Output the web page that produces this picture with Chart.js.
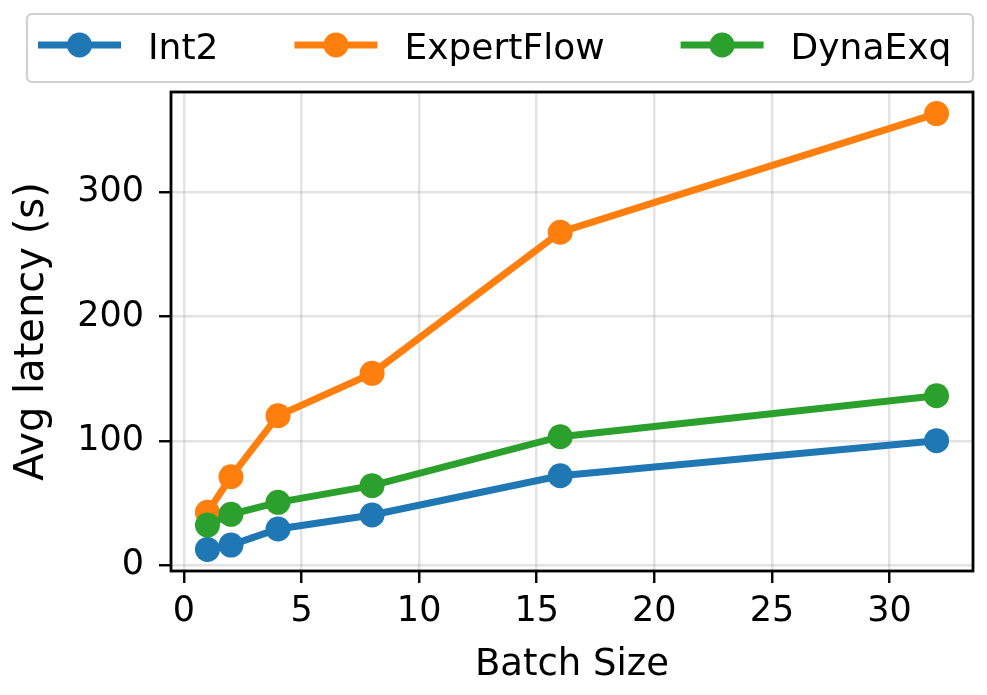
<!DOCTYPE html>
<html>
<head>
<meta charset="utf-8">
<script src="https://cdn.jsdelivr.net/npm/chart.js@4.4.1/dist/chart.umd.min.js"></script>
<style>
  html, body { margin: 0; padding: 0; background: #fff; }
  #wrap { width: 987px; height: 695px; position: relative; }
</style>
</head>
<body>
<div id="wrap"><canvas id="latencyChart"></canvas></div>
<script>
// Data
const batchSizes = [1, 2, 4, 8, 16, 32];
const int2 = [12.6, 16.1, 29.0, 40.3, 71.9, 100.1];
const expertFlow = [42.4, 71.1, 120.2, 154.3, 267.9, 363.4];
const dynaExq = [32.2, 40.8, 50.5, 63.9, 103.3, 136.3];

const seriesNames = ['Int2', 'ExpertFlow', 'DynaExq'];
const xTickValues = [0, 5, 10, 15, 20, 25, 30];
const yTickValues = [0, 100, 200, 300];

// matplotlib tab10 colours
const colBlue = '#1f77b4';
const colOrange = '#ff7f0e';
const colGreen = '#2ca02c';
const colGrid = 'rgba(176,176,176,0.35)';
const FONT = "'DejaVu Sans', sans-serif";

function toPoints(ys) {
    return batchSizes.map((x, i) => ({ x: x, y: ys[i] }));
}

function makeSet(label, ys, color, order) {
    return {
        label: label,
        data: toPoints(ys),
        borderColor: color,
        backgroundColor: color,
        borderWidth: 7,
        pointRadius: 12.5,
        pointHoverRadius: 12.5,
        pointBorderWidth: 0,
        pointBackgroundColor: color,
        tension: 0,
        order: order
    };
}

// frame on all four sides (matplotlib spines)
const framePlugin = {
    id: 'frame',
    afterDraw(chart) {
        const a = chart.chartArea;
        const ctx = chart.ctx;
        ctx.save();
        ctx.strokeStyle = '#000';
        ctx.lineWidth = 2.8;
        ctx.strokeRect(a.left, a.top, a.right - a.left, a.bottom - a.top);
        ctx.restore();
    }
};

// legend box in the style of matplotlib, built from the datasets
const legendPlugin = {
    id: 'mplLegend',
    afterDraw(chart) {
        const ctx = chart.ctx;
        const bx = 27, by = 14, bw = 946, bh = 68, r = 5;
        ctx.save();
        ctx.beginPath();
        ctx.roundRect(bx, by, bw, bh, r);
        ctx.fillStyle = 'rgba(255,255,255,0.8)';
        ctx.fill();
        ctx.lineWidth = 2.2;
        ctx.strokeStyle = '#d0d0d0';
        ctx.stroke();

        ctx.font = '36px ' + FONT;
        ctx.textBaseline = 'alphabetic';
        ctx.fillStyle = '#000';
        let x = 38;
        const cy = 45;
        chart.data.datasets.forEach(ds => {
            ctx.beginPath();
            ctx.moveTo(x, cy);
            ctx.lineTo(x + 83, cy);
            ctx.strokeStyle = ds.borderColor;
            ctx.lineWidth = 7;
            ctx.stroke();
            ctx.beginPath();
            ctx.arc(x + 41.5, cy, 12.5, 0, Math.PI * 2);
            ctx.fillStyle = ds.borderColor;
            ctx.fill();
            ctx.fillStyle = '#000';
            const tx = x + 110;
            ctx.fillText(ds.label, tx, 59);
            x = tx + ctx.measureText(ds.label).width + 76;
        });
        ctx.restore();
    }
};

new Chart(document.getElementById('latencyChart'), {
    type: 'line',
    data: {
        datasets: [
            makeSet(seriesNames[0], int2, colBlue, 3),
            makeSet(seriesNames[1], expertFlow, colOrange, 2),
            makeSet(seriesNames[2], dynaExq, colGreen, 1)
        ]
    },
    options: {
        responsive: true,
        maintainAspectRatio: false,
        animation: false,
        layout: { padding: { top: 92, right: 14, left: 0, bottom: 0 } },
        plugins: {
            legend: { display: false },
            tooltip: { enabled: false }
        },
        scales: {
            x: {
                type: 'linear',
                min: -0.55,
                max: 33.55,
                afterBuildTicks: s => { s.ticks = xTickValues.map(v => ({ value: v })); },
                afterFit: s => { s.height = 124; },
                grid: {
                    color: colGrid,
                    lineWidth: 2.5,
                    drawTicks: true,
                    tickLength: 12,
                    tickColor: '#000',
                    tickWidth: 2.4
                },
                border: { display: false },
                ticks: {
                    font: { size: 35, family: FONT },
                    color: '#000',
                    padding: 8,
                    maxRotation: 0
                },
                title: {
                    display: true,
                    text: 'Batch Size',
                    font: { size: 37, family: FONT },
                    color: '#000',
                    padding: { top: 0, bottom: 7 }
                }
            },
            y: {
                type: 'linear',
                min: -4.8,
                max: 380.8,
                afterBuildTicks: s => { s.ticks = yTickValues.map(v => ({ value: v })); },
                afterFit: s => { s.width = 171; },
                grid: {
                    color: colGrid,
                    lineWidth: 2.5,
                    drawTicks: true,
                    tickLength: 12,
                    tickColor: '#000',
                    tickWidth: 2.4
                },
                border: { display: false },
                ticks: {
                    font: { size: 35, family: FONT },
                    color: '#000',
                    padding: 15
                },
                title: {
                    display: true,
                    text: 'Avg latency (s)',
                    font: { size: 40, family: FONT },
                    color: '#000',
                    padding: { top: 9, bottom: 0 }
                }
            }
        }
    },
    plugins: [framePlugin, legendPlugin]
});
</script>
</body>
</html>
